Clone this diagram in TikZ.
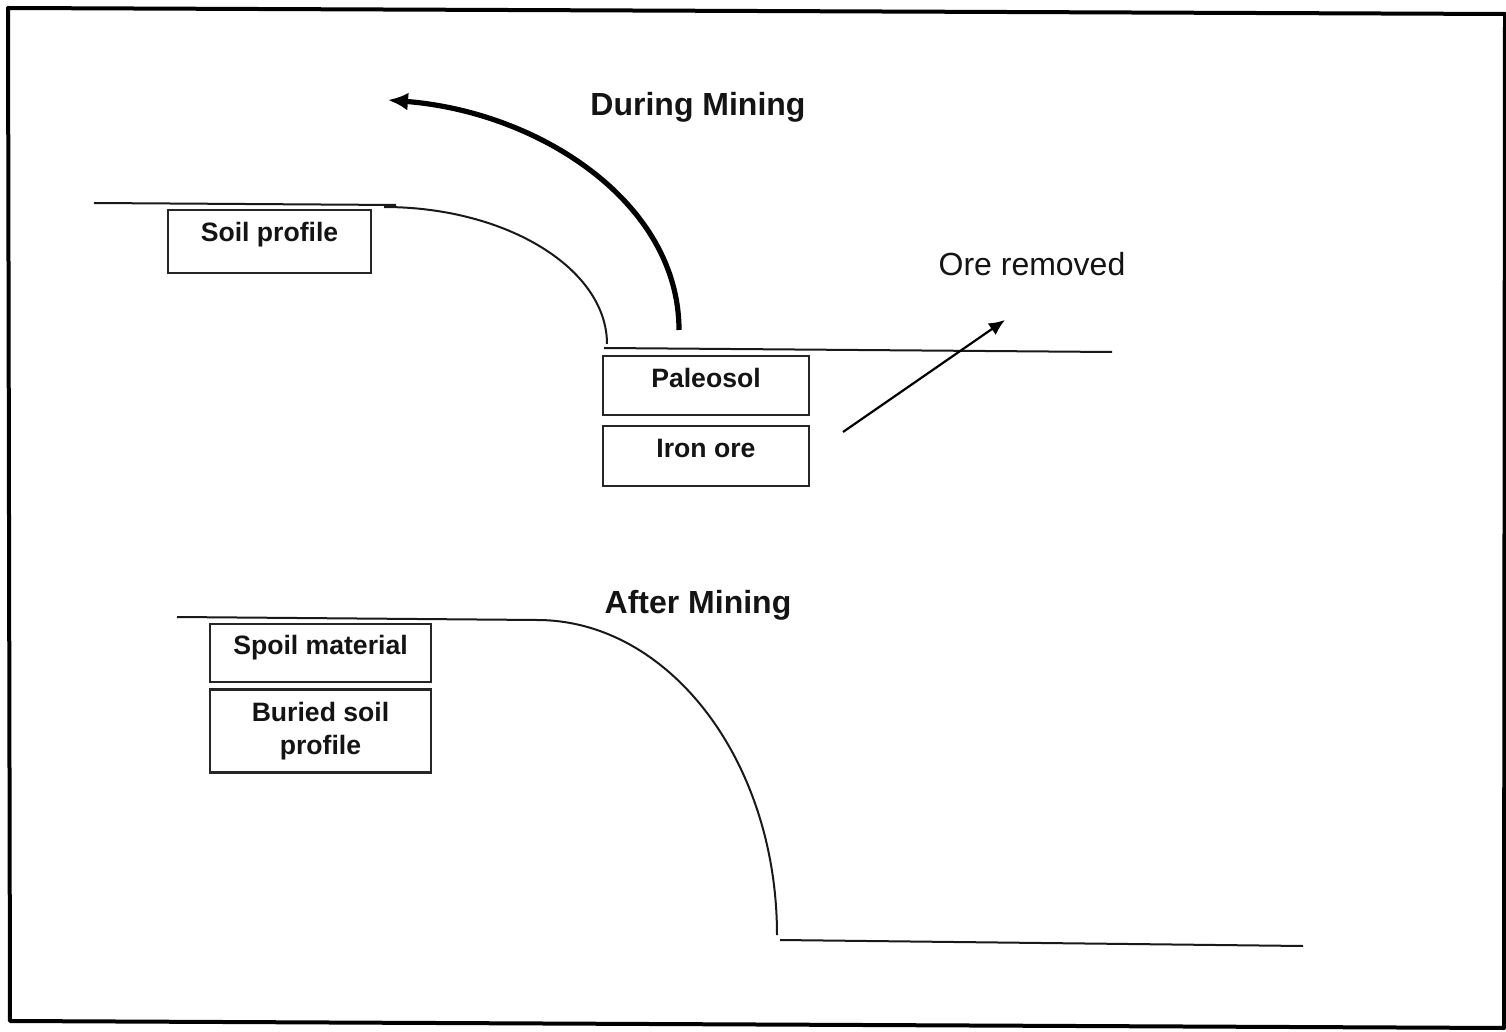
\documentclass[tikz,border=0pt]{standalone}
\usepackage{fontspec}
\setmainfont{Liberation Sans}
\usetikzlibrary{arrows.meta}
\begin{document}
\begin{tikzpicture}[x=0.5pt,y=-0.5pt,
  frame/.style={line width=2pt,line join=round},
  ground/.style={line width=1pt,black!90},
  boxnode/.style={draw=black!85,line width=1.2pt,anchor=north,inner ysep=0pt,inner xsep=2pt,
     text height=15.5pt,font=\fontsize{13.3}{16.5}\selectfont\bfseries,text=black!92},
  title/.style={font=\fontsize{16}{19}\selectfont\bfseries,text=black!92},
  plain/.style={font=\fontsize{16}{19}\selectfont,text=black!92},
  bigarrow/.style={line width=2.6pt,-{Latex[length=10pt,width=9pt]}},
  smallarrow/.style={line width=1.1pt,-{Latex[length=8pt,width=7pt]}}]
\useasboundingbox (0,0) rectangle (1506,1032);
\fill[white] (0,0) rectangle (1506,1032);
% frame
\draw[frame] (8,8) -- (1505,14) -- (1504,1028) -- (10,1021) -- cycle;
% titles
\node[title] (during) at (698,107) {During Mining};
\node[title] (after) at (698,605) {After Mining};
\node[plain] (ore) at (1032,264) {Ore removed};
% boxes
\node[boxnode,minimum width=101.5pt,minimum height=31.5pt,text depth=16pt] (soil) at (269.5,209) {Soil profile};
\node[boxnode,minimum width=103pt,minimum height=29.5pt,text depth=14pt] (paleo) at (706,355) {Paleosol};
\node[boxnode,minimum width=103pt,minimum height=30pt,text depth=14.5pt] (iron) at (706,425) {Iron ore};
\node[boxnode,minimum width=110.5pt,minimum height=29pt,text height=15pt,text depth=14pt] (spoil) at (320.5,623) {Spoil material};
\node[draw=black!85,line width=1.2pt,minimum width=110.5pt,minimum height=41.5pt,align=center,
  font=\fontsize{13.3}{16.5}\selectfont\bfseries,text=black!92] (buried) at (320.5,731) {Buried soil\\profile};
% ground lines, during mining
\draw[ground] (94,203) -- (396,205);
\draw[ground] (384,207) .. controls (507,207) and (607,269) .. (607,344);
\draw[ground] (604,348) -- (1112,352);
% removal arrows
\coordinate (pitbottom) at (679,330);
\coordinate (pile) at (388,100);
\draw[bigarrow] (pitbottom) .. controls (679,203) and (540,112) .. (pile);
\coordinate (orestart) at (843,432);
\coordinate (oreend) at (1005,320);
\draw[smallarrow] (orestart) -- (oreend);
% ground lines, after mining
\draw[ground] (177,617) -- (537,620) .. controls (669,620) and (777,761) .. (777,935);
\draw[ground] (780,940) -- (1303,946);
\end{tikzpicture}
\end{document}
